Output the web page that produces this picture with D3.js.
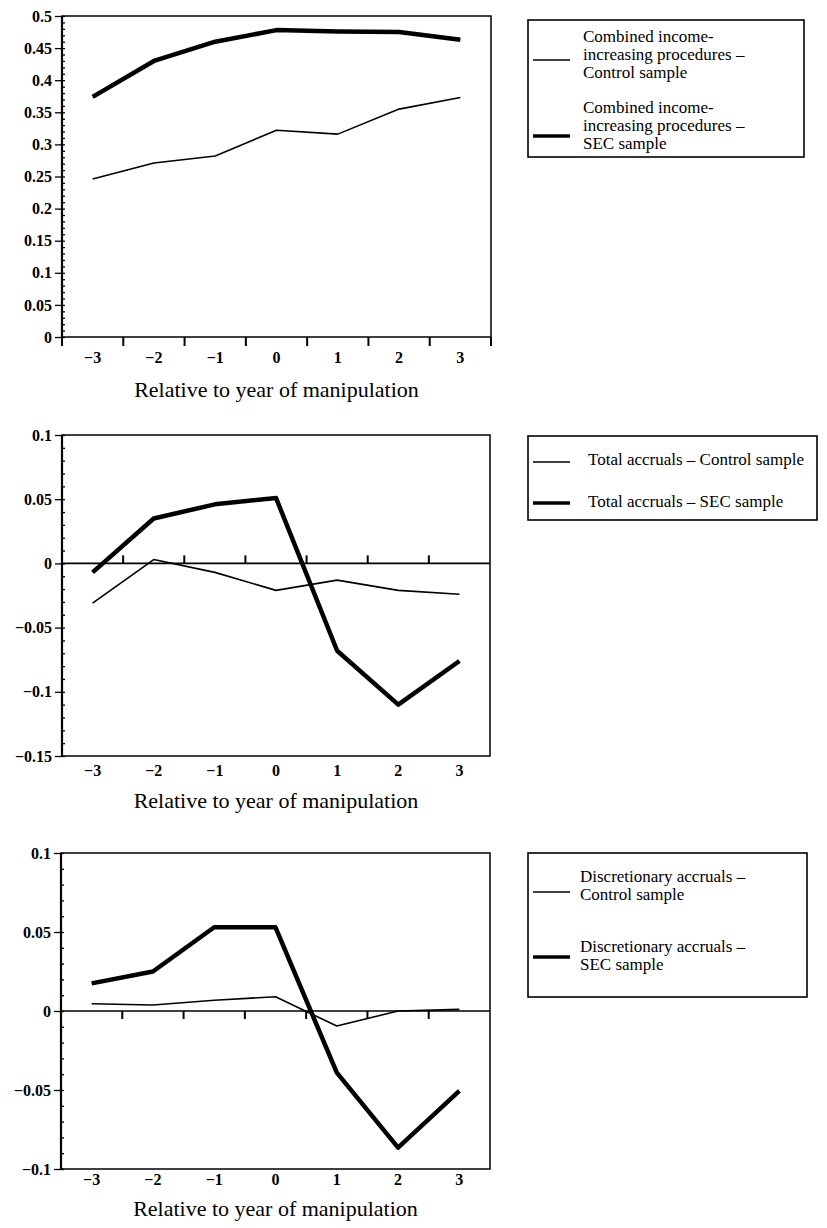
<!DOCTYPE html>
<html>
<head>
<meta charset="utf-8">
<script src="https://cdn.jsdelivr.net/npm/d3@7/dist/d3.min.js"></script>
<style>
    body { margin: 0; background: #fff; }
    svg { display: block; font-family: "Liberation Serif", "Times New Roman", serif; }
    .tick text { font-family: "Liberation Serif", "Times New Roman", serif; font-size: 16px; font-weight: bold; fill: #000; }
    .tick line { stroke: #000; stroke-width: 1.3; }
</style>
</head>
<body>
<div id="graphContainer"></div>
<script>
// years relative to the manipulation year
var years = [-3, -2, -1, 0, 1, 2, 3];

// combined income-increasing procedures
var combinedControl = [0.246, 0.271, 0.282, 0.322, 0.316, 0.355, 0.373];
var combinedSEC = [0.374, 0.430, 0.460, 0.478, 0.476, 0.475, 0.463];

// total accruals
var totalControl = [-0.031, 0.003, -0.007, -0.021, -0.013, -0.021, -0.024];
var totalSEC = [-0.007, 0.035, 0.046, 0.051, -0.068, -0.110, -0.076];

// discretionary accruals
var discControl = [0.0046, 0.0038, 0.0068, 0.009, -0.0095, 0.0, 0.001];
var discSEC = [0.0175, 0.025, 0.053, 0.053, -0.039, -0.0865, -0.0506];

// y tick labels per panel
var combinedTicks = [0, 0.05, 0.1, 0.15, 0.2, 0.25, 0.3, 0.35, 0.4, 0.45, 0.5];
var totalTicks = [-0.15, -0.1, -0.05, 0, 0.05, 0.1];
var discTicks = [-0.1, -0.05, 0, 0.05, 0.1];

var combinedLegend = [
    ["Combined income-", "increasing procedures –", "Control sample"],
    ["Combined income-", "increasing procedures –", "SEC sample"]
];
var totalLegend = [
    ["Total accruals – Control sample"],
    ["Total accruals – SEC sample"]
];
var discLegend = [
    ["Discretionary accruals –", "Control sample"],
    ["Discretionary accruals –", "SEC sample"]
];

var xTitle = "Relative to year of manipulation";

var svg = d3.select("#graphContainer").append("svg")
    .attr("width", 827)
    .attr("height", 1228);

var fmt = d3.format("~g");

// layout of the three stacked panels
var panels = [
    {left: 62, right: 491, top: 16, bottom: 337, domain: [0, 0.5], ticks: combinedTicks,
        control: combinedControl, sec: combinedSEC, xTicks: "bottom", labelPad: 15, titleY: 60,
        legend: {x0: 528, x1: 804, y0: 20, y1: 157, tx: 583, lineY: [60, 136],
            textY: [[42, 60, 78], [113, 131, 149]], lines: combinedLegend}},
    {left: 62, right: 490, top: 435, bottom: 756, domain: [-0.15, 0.1], ticks: totalTicks,
        control: totalControl, sec: totalSEC, xTicks: "zeroUp", labelPad: 9, titleY: 52,
        legend: {x0: 528, x1: 817, y0: 436, y1: 520, tx: 588, lineY: [462, 503],
            textY: [[465], [507]], lines: totalLegend}},
    {left: 61, right: 490, top: 853, bottom: 1169, domain: [-0.1, 0.1], ticks: discTicks,
        control: discControl, sec: discSEC, xTicks: "zeroDown", labelPad: 5, titleY: 47,
        legend: {x0: 528, x1: 807, y0: 853, y1: 997, tx: 580, lineY: [892, 957],
            textY: [[882, 900], [952, 970]], lines: discLegend}}
];

panels.forEach(drawPanel);

function drawPanel(p) {
    var g = svg.append("g");

    var x = d3.scaleBand().domain(years).range([p.left, p.right]);
    var y = d3.scaleLinear().domain(p.domain).range([p.bottom, p.top]);

    // minor ruler ticks on the inside of the y axis
    var minor = d3.range(Math.round(p.domain[0] * 100), Math.round(p.domain[1] * 100) + 1)
        .map(function (d) { return d / 100; });
    g.append("g")
        .attr("transform", "translate(" + p.left + ",0)")
        .call(d3.axisRight(y).tickValues(minor).tickSize(3).tickFormat(""))
        .call(function (a) { a.select(".domain").remove(); });

    // major ticks with labels
    g.append("g")
        .attr("transform", "translate(" + p.left + ",0)")
        .call(d3.axisLeft(y).tickValues(p.ticks).tickSize(7).tickPadding(3).tickFormat(fmt))
        .call(function (a) { a.select(".domain").remove(); });

    // year labels under the box
    g.append("g")
        .attr("transform", "translate(0," + p.bottom + ")")
        .call(d3.axisBottom(x).tickSize(0).tickPadding(p.labelPad).tickFormat(d3.format("d")))
        .call(function (a) { a.select(".domain").remove(); });

    // frame
    g.append("rect")
        .attr("x", p.left).attr("y", p.top)
        .attr("width", p.right - p.left).attr("height", p.bottom - p.top)
        .attr("fill", "none").attr("stroke", "#000").attr("stroke-width", 1.5);
    g.append("line")
        .attr("x1", p.left).attr("x2", p.left).attr("y1", p.top).attr("y2", p.bottom)
        .attr("stroke", "#000").attr("stroke-width", 2.2);

    // boundary ticks between the years
    var edges = years.map(function (d) { return x(d); }).concat([x.range()[1]]);
    var y0, len;
    if (p.xTicks === "bottom") {
        y0 = p.bottom; len = 9;
    } else {
        edges = edges.slice(1, -1);
        y0 = y(0); len = p.xTicks === "zeroUp" ? -8 : 8;
        g.append("line")
            .attr("x1", p.left).attr("x2", p.right).attr("y1", y0).attr("y2", y0)
            .attr("stroke", "#000").attr("stroke-width", 1.6);
    }
    g.selectAll(".edge").data(edges).enter().append("line")
        .attr("class", "edge")
        .attr("x1", function (d) { return d; }).attr("x2", function (d) { return d; })
        .attr("y1", y0).attr("y2", y0 + len)
        .attr("stroke", "#000").attr("stroke-width", 2);

    var line = d3.line()
        .x(function (d, i) { return x(years[i]) + x.bandwidth() / 2; })
        .y(function (d) { return y(d); });

    g.append("path").datum(p.control)
        .attr("d", line).attr("fill", "none")
        .attr("stroke", "#000").attr("stroke-width", 1.6).attr("stroke-linejoin", "round");
    g.append("path").datum(p.sec)
        .attr("d", line).attr("fill", "none")
        .attr("stroke", "#000").attr("stroke-width", 4.5).attr("stroke-linejoin", "round");

    g.append("text")
        .attr("x", (p.left + p.right) / 2).attr("y", p.bottom + p.titleY)
        .attr("text-anchor", "middle").attr("font-size", 22)
        .text(xTitle);

    drawLegend(p.legend);
}

function drawLegend(l) {
    var g = svg.append("g");
    g.append("rect")
        .attr("x", l.x0).attr("y", l.y0)
        .attr("width", l.x1 - l.x0).attr("height", l.y1 - l.y0)
        .attr("fill", "none").attr("stroke", "#000").attr("stroke-width", 1.6);

    var widths = [1.5, 3.5];
    l.lines.forEach(function (rows, i) {
        g.append("line")
            .attr("x1", 533).attr("x2", 570)
            .attr("y1", l.lineY[i]).attr("y2", l.lineY[i])
            .attr("stroke", "#000").attr("stroke-width", widths[i]);
        rows.forEach(function (t, j) {
            g.append("text")
                .attr("x", l.tx).attr("y", l.textY[i][j])
                .attr("font-size", 17)
                .text(t);
        });
    });
}
</script>
</body>
</html>
